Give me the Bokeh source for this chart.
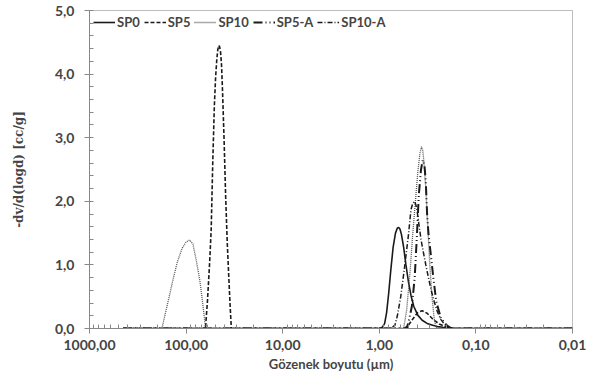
from bokeh.plotting import figure
from bokeh.models import (Range1d, FixedTicker, CustomJSTickFormatter, Legend, LegendItem)
from bokeh.embed import file_html
from bokeh.resources import INLINE

# ---- data (pore size in µm, -dv/d(logd) in cc/g) ----
sp0_x = [450, 100, 10, 1.0, 0.93, 0.88, 0.84, 0.80, 0.76, 0.72, 0.68, 0.65, 0.63, 0.61, 0.59,
         0.56, 0.53, 0.50, 0.47, 0.44, 0.40, 0.36, 0.32, 0.28, 0.25, 0.22, 0.19, 0.16, 0.1, 0.01]
sp0_y = [0, 0, 0, 0, 0.02, 0.08, 0.25, 0.55, 0.92, 1.27, 1.50, 1.58, 1.59, 1.56, 1.48,
         1.28, 1.0, 0.74, 0.52, 0.35, 0.21, 0.13, 0.08, 0.05, 0.03, 0.02, 0.01, 0.0, 0, 0]

sp5_x = [450, 100, 63, 60, 57, 55, 53, 51, 49.5, 48, 47, 46, 45, 44, 43, 42, 40.5, 39, 37.5,
         36, 35, 34, 30, 10, 1, 0.55, 0.5, 0.45, 0.4, 0.36, 0.32, 0.28, 0.24, 0.2, 0.18, 0.1, 0.01]
sp5_y = [0, 0, 0, 0.45, 1.05, 1.55, 2.6, 3.5, 3.95, 4.25, 4.38, 4.45, 4.43, 4.35, 4.15, 3.75,
         3.0, 2.1, 1.35, 0.75, 0.35, 0.0, 0, 0, 0, 0, 0.05, 0.15, 0.25, 0.28, 0.24, 0.15, 0.07, 0.02, 0, 0, 0]

sp10_x = [450, 178, 155, 135, 123, 110, 100, 92, 85, 78, 72, 68, 65, 63, 10, 1, 0.56, 0.52,
          0.48, 0.45, 0.42, 0.40, 0.38, 0.366, 0.355, 0.345, 0.33, 0.315, 0.30, 0.285, 0.27,
          0.26, 0.25, 0.1, 0.01]
sp10_y = [0, 0, 0.4, 0.8, 1.05, 1.26, 1.36, 1.39, 1.33, 1.05, 0.75, 0.45, 0.2, 0, 0, 0, 0, 0.3,
          0.9, 1.5, 2.05, 2.45, 2.75, 2.86, 2.8, 2.62, 2.2, 1.6, 1.0, 0.5, 0.15,
          0.03, 0, 0, 0]

sp5a_x = [450, 100, 10, 1, 0.52, 0.49, 0.46, 0.43, 0.41, 0.39, 0.37, 0.355, 0.34, 0.33, 0.32,
          0.31, 0.29, 0.275, 0.257, 0.23, 0.2, 0.18, 0.1, 0.01]
sp5a_y = [0, 0, 0, 0, 0, 0.15, 0.35, 0.8, 1.4, 2.1, 2.5, 2.65, 2.55, 2.3, 1.8,
          1.5, 1.1, 0.78, 0.42, 0.16, 0.05, 0, 0, 0]

sp10a_x = [450, 100, 10, 1, 0.78, 0.69, 0.65, 0.60, 0.55, 0.50, 0.47, 0.45, 0.43, 0.41, 0.39,
           0.37, 0.35, 0.33, 0.31, 0.29, 0.27, 0.25, 0.23, 0.21, 0.19, 0.17, 0.1, 0.01]
sp10a_y = [0, 0, 0, 0, 0, 0.05, 0.2, 0.5, 0.94, 1.46, 1.87, 1.97, 2.0, 1.9, 1.65,
           1.4, 1.2, 1.0, 0.8, 0.6, 0.42, 0.26, 0.14, 0.06, 0.02, 0, 0, 0]

labels = ["SP0", "SP5", "SP10", "SP5-A", "SP10-A"]
x_major = [1000, 100, 10, 1, 0.1, 0.01]
x_minor = [m * 10.0 ** e for e in range(-2, 3) for m in range(2, 10)]
y_major = [0, 1, 2, 3, 4, 5]
y_minor = [i * 0.2 for i in range(26)]

p = figure(width=587, height=376, x_axis_type="log",
           x_range=Range1d(1000, 0.01), y_range=Range1d(0, 5),
           output_backend="svg", toolbar_location=None,
           min_border_left=89, min_border_right=15, min_border_top=10, min_border_bottom=48)
p.grid.visible = False
p.outline_line_color = "#bdbdbd"
p.outline_line_width = 1
p.background_fill_color = "white"

r0 = p.line(sp0_x, sp0_y, line_color="#1a1a1a", line_width=1.6)
r1 = p.line(sp5_x, sp5_y, line_color="#1a1a1a", line_width=1.6, line_dash="4 2")
r2 = p.line(sp10_x, sp10_y, line_color="#555555", line_width=1.3, line_dash="1 1")
r3 = p.line(sp5a_x, sp5a_y, line_color="#1a1a1a", line_width=2.0, line_dash="9 3 1 3 1 3")
r4 = p.line(sp10a_x, sp10a_y, line_color="#1a1a1a", line_width=1.5, line_dash="5 2 1 2")

xa = p.xaxis[0]
xa.ticker = FixedTicker(ticks=x_major, minor_ticks=x_minor)
xa.formatter = CustomJSTickFormatter(code="return tick.toFixed(2).replace('.', ',');")
xa.axis_label = "Gözenek boyutu (µm)"
xa.axis_label_text_font = "Lato"
xa.axis_label_text_font_style = "bold"
xa.axis_label_text_font_size = "13px"
xa.axis_label_standoff = 3
xa.major_label_text_font = "Lato"
xa.major_label_text_font_style = "bold"
xa.major_label_text_font_size = "14px"
xa.major_label_standoff = 6
xa.axis_line_color = "#888888"
xa.major_tick_line_color = "#888888"
xa.minor_tick_line_color = "#888888"
xa.major_tick_out = 5
xa.major_tick_in = 0
xa.minor_tick_in = 4
xa.minor_tick_out = 0

ya = p.yaxis[0]
ya.ticker = FixedTicker(ticks=y_major, minor_ticks=y_minor)
ya.formatter = CustomJSTickFormatter(code="return tick.toFixed(1).replace('.', ',');")
ya.axis_label = "-dv/d(logd) [cc/g]"
ya.axis_label_text_font = "DejaVu Serif"
ya.axis_label_text_font_style = "bold"
ya.axis_label_text_font_size = "12px"
ya.axis_label_standoff = 26
ya.major_label_text_font = "Lato"
ya.major_label_text_font_style = "bold"
ya.major_label_text_font_size = "14px"
ya.major_label_standoff = 10
ya.axis_line_color = "#888888"
ya.major_tick_line_color = "#888888"
ya.minor_tick_line_color = "#888888"
ya.major_tick_out = 5
ya.major_tick_in = 0
ya.minor_tick_in = 4
ya.minor_tick_out = 0

legend = Legend(items=[LegendItem(label=l, renderers=[r]) for l, r in zip(labels, [r0, r1, r2, r3, r4])],
                orientation="horizontal", location="top_left",
                border_line_color=None, background_fill_alpha=0,
                label_text_font="Lato", label_text_font_style="bold",
                label_text_font_size="13px", glyph_width=22, glyph_height=12,
                label_standoff=2, spacing=4, padding=2, margin=4, label_height=14)
p.add_layout(legend, "center")

open("out.html", "w").write(file_html(p, INLINE))
